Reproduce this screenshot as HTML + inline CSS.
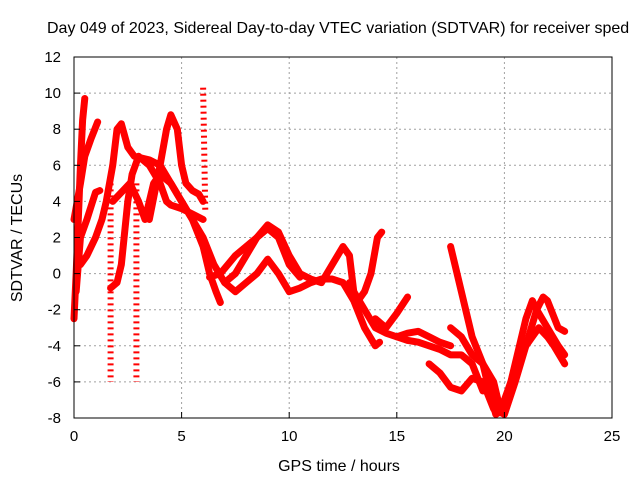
<!DOCTYPE html>
<html><head><meta charset="utf-8"><style>
body{margin:0;background:#fff}
svg{display:block;font-family:"Liberation Sans",sans-serif}
</style></head><body>
<svg id="c" width="640" height="480" viewBox="0 0 640 480">
<rect width="640" height="480" fill="#fff"/>
<text x="47" y="33" font-size="16">Day 049 of 2023, Sidereal Day-to-day VTEC variation (SDTVAR) for receiver sped</text>
<g id="grid"></g>
<g id="series"></g>
<rect x="74" y="57" width="538" height="361" fill="none" stroke="#000" stroke-width="1"/>
<g id="axes"></g>
<text x="339" y="471" font-size="16" text-anchor="middle">GPS time / hours</text>
<text transform="translate(22,238) rotate(-90)" font-size="16" text-anchor="middle">SDTVAR / TECUs</text>
</svg>
<script>
const xTicks=[0,5,10,15,20,25];
const yTicks=[-8,-6,-4,-2,0,2,4,6,8,10,12];
const s1=[[0,-2.5],[0.1,0],[0.2,3],[0.3,6],[0.4,8.5],[0.5,9.7]];
const s2=[[0,3],[0.3,5],[0.5,6.5],[0.8,7.5],[1.1,8.4]];
const s3=[[0.1,-1],[0.3,2],[0.6,3],[1,4.5],[1.2,4.6]];
const s4=[[0.3,0.5],[0.6,1],[1,2],[1.3,3],[1.5,4],[1.8,6],[2,8],[2.2,8.3],[2.5,7],[2.8,6.5],[3.5,6.3],[4,6],[4.5,5],[5,4],[5.5,3],[6,1.5],[6.3,0],[6.6,-1],[6.8,-1.6]];
const s5=[[1.7,-0.8],[2,-0.5],[2.2,0.5],[2.5,4],[2.7,5.5],[3,6.5],[3.5,6],[4,5],[4.3,4],[4.5,3.8],[5,3.6],[5.5,3.3],[6,3]];
const s6=[[3.5,3],[4,6],[4.3,8],[4.5,8.8],[4.8,8],[5,6],[5.2,5],[5.5,4.6],[5.8,4.4],[6,4]];
const s7=[[1.8,4],[2.2,4.5],[2.6,5],[3,4],[3.3,3],[3.7,5],[4,5.5],[4.5,5],[5,4],[5.5,3],[6,2],[6.5,0.5],[7,-0.5],[7.5,0],[8,1],[8.5,2],[9,2.7],[9.5,2.3],[10,1],[10.5,0],[11,-0.3],[11.5,-0.5],[12,0.5],[12.5,1.5],[12.8,1],[13,-1],[13.5,-2],[14,-3],[14.5,-3.3],[15,-3.5],[15.5,-3.3],[16,-3.2],[16.5,-3.5],[17,-3.8],[17.5,-4]];
const s8=[[6.3,-0.2],[6.8,0],[7.5,1],[8,1.5],[8.5,2],[9,2.5],[9.5,2],[10,0.5],[10.5,-0.2]];
const s9=[[7,-0.5],[7.5,-1],[8,-0.5],[8.5,0],[9,0.8],[9.5,0],[10,-1],[10.5,-0.8],[11,-0.5],[11.5,-0.3],[12,-0.3],[12.5,-0.5],[13,-1.5],[13.5,-3],[14,-4],[14.2,-3.8]];
const s10=[[12.8,-0.5],[13.2,-1.5],[13.5,-1],[13.8,0],[14.1,2],[14.3,2.3]];
const s11=[[14,-2.5],[14.5,-3],[15,-2.2],[15.5,-1.3]];
const s12=[[17.5,-3],[18,-3.5],[18.5,-4.5],[19,-5],[19.5,-6],[19.8,-7.5],[20,-7],[20.3,-6],[20.7,-4],[21,-2.5],[21.3,-1.5],[21.5,-2],[22,-3],[22.5,-4],[22.8,-4.5]];
const s13=[[17.5,1.5],[17.8,0],[18.2,-2],[18.5,-3.5],[19,-5],[19.3,-6.5],[19.6,-7.8],[20,-7.5],[20.3,-6],[20.6,-5],[21,-4],[21.3,-3.5],[21.6,-3],[22,-3.5],[22.3,-4],[22.8,-5]];
const s14=[[16.5,-5],[17,-5.5],[17.5,-6.3],[18,-6.5],[18.5,-5.8],[19,-6],[19.5,-7.5],[20,-7.8],[20.5,-6],[21,-4],[21.5,-2],[21.8,-1.3],[22,-1.5],[22.5,-3],[22.8,-3.2]];
const s15=[[15,-3.5],[15.5,-3.7],[16,-3.8],[16.5,-4],[17,-4.2],[17.5,-4.5],[18,-4.5],[18.5,-5],[19,-6.5]];
const spike1=[[1.7,5],[1.7,-6]];
const spike2=[[2.9,5],[2.9,-6]];
const spike3=[[6,10.3],[6.1,3.5]];
const allSeries=[s1,s2,s3,s4,s5,s6,s7,s8,s9,s10,s11,s12,s13,s14,s15];
const spikes=[spike1,spike2,spike3];

const NS='http://www.w3.org/2000/svg';
const X0=74,X1=612,Y0=418,Y1=57;
const xs=v=>X0+(v-0)/(25-0)*(X1-X0);
const ys=v=>Y0-(v+8)/(20)*(Y0-Y1);
const grid=document.getElementById('grid'),axes=document.getElementById('axes'),ser=document.getElementById('series');
function mk(tag,attrs,parent){const e=document.createElementNS(NS,tag);for(const k in attrs)e.setAttribute(k,attrs[k]);parent.appendChild(e);return e;}
xTicks.forEach(t=>{const x=xs(t);
 if(t>0&&t<25){const g=mk('line',{x1:x,x2:x,y1:Y1,y2:Y0,stroke:'#a0a0a0','stroke-dasharray':'2,3'},grid);}
 const tk=mk('line',{x1:x,x2:x,y1:Y0,y2:Y0-6,stroke:'#000'},axes);
 const l=mk('text',{x:x,y:Y0+23,'font-size':15,'text-anchor':'middle'},axes);l.textContent=t;
 });
yTicks.forEach(t=>{const y=ys(t);
 if(t>-8&&t<12){const g=mk('line',{x1:X0,x2:X1,y1:y,y2:y,stroke:'#a0a0a0','stroke-dasharray':'2,3'},grid);}
 const tk=mk('line',{x1:X0,x2:X0+6,y1:y,y2:y,stroke:'#000'},axes);
 const l=mk('text',{x:X0-13,y:y+5,'font-size':15,'text-anchor':'end'},axes);l.textContent=t;
 });
allSeries.forEach((s,i)=>{const p=mk('polyline',{points:s.map(d=>xs(d[0])+','+ys(d[1])).join(' '),fill:'none',stroke:'#ff0000','stroke-width':7,'stroke-linejoin':'round','stroke-linecap':'round'},ser);
 
 });
spikes.forEach((s,i)=>{const p=mk('polyline',{points:s.map(d=>xs(d[0])+','+ys(d[1])).join(' '),fill:'none',stroke:'#ff0000','stroke-width':6,'stroke-dasharray':'2,4'},ser);
 
 });
</script>
</body></html>
